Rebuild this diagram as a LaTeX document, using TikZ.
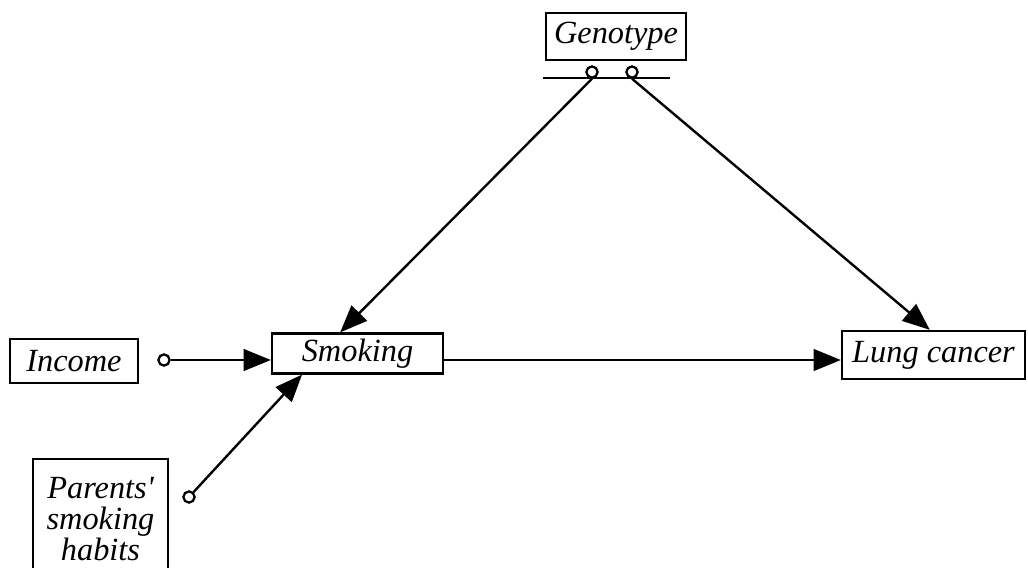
\documentclass[tikz,border=0pt]{standalone}
\usepackage{fontspec}
\setmainfont{Liberation Serif}[Ligatures=TeXOff,
  ItalicFont=Liberation Serif Italic]
\usetikzlibrary{arrows.meta,calc}

\begin{document}
\begin{tikzpicture}[x=0.025cm, y=-0.025cm,
  var/.style={draw, line width=1.6pt, inner sep=0pt, align=center,
              font=\fontsize{23}{22}\selectfont\itshape},
  dot/.style={circle, draw, line width=1.6pt, minimum size=0.28cm, inner sep=0pt},
  cause/.style={-{Triangle[length=0.68cm,width=0.54cm]}, line width=1.7pt}
]
  \useasboundingbox (0,0) rectangle (1028,567);

  \node[var, minimum width=3.5cm, minimum height=1.175cm] (geno) at (616,36.5) {Genotype};
  \node[var, minimum width=3.2cm, minimum height=1.1cm] (inc) at (74,361) {Income};
  \node[var, minimum width=4.275cm, minimum height=1cm] (smk) at (357.5,353.5) {Smoking};
  \node[var, minimum width=4.575cm, minimum height=1.2cm] (lung) at (933.5,355) {Lung cancer};
  \node[var, minimum width=3.375cm, minimum height=3cm] (par) at (100.5,519)
    {Parents'\\smoking\\habits};

  % bar under the genotype
  \coordinate (barw) at (543,78);
  \coordinate (bare) at (670,78);
  \draw[line width=1.7pt] (barw) -- (bare);
  \node[dot] (gl) at (592,72) {};
  \node[dot] (gr) at (632,72) {};

  \draw[cause] (gl.south) -- ($(smk.north west)!0.4!(smk.north east)$);
  \draw[cause] (gr.south) -- ($(lung.north west)!0.48!(lung.north east)$);

  \node[dot] (incdot) at (164,360) {};
  \draw[cause] (incdot) -- (incdot -| smk.west);
  \draw[cause] (smk.east |- incdot) -- (lung.west |- incdot);

  \node[dot] (pardot) at (189,497) {};
  \draw[cause] (pardot) -- ($(smk.south west)!0.18!(smk.south east)$);
\end{tikzpicture}
\end{document}
